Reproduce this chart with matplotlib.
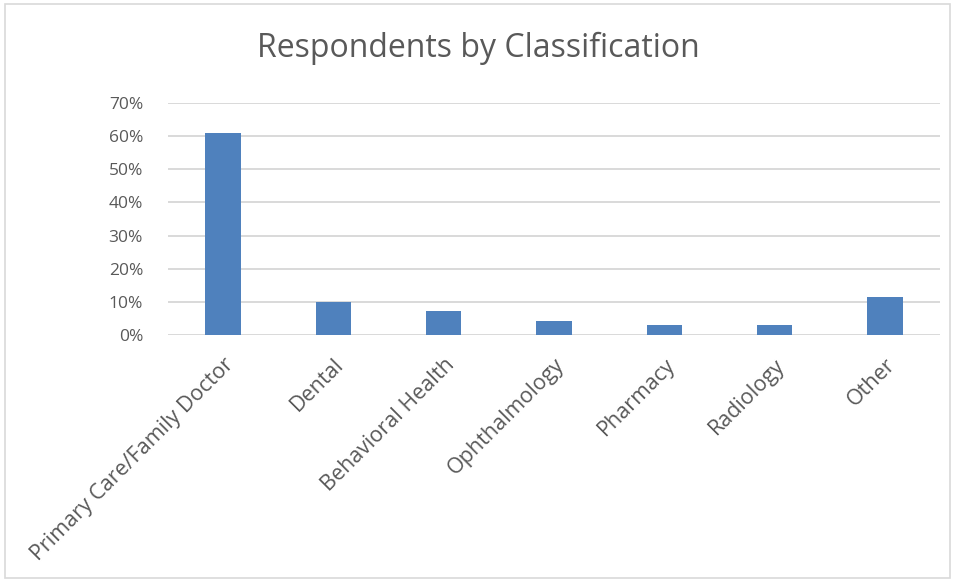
import matplotlib.pyplot as plt
from matplotlib.ticker import PercentFormatter
from matplotlib.patches import Rectangle

categories = ['Primary Care/Family Doctor', 'Dental', 'Behavioral Health',
              'Ophthalmology', 'Pharmacy', 'Radiology', 'Other']
shares = [0.608, 0.101, 0.072, 0.043, 0.029, 0.029, 0.116]
yticks = [0, 0.1, 0.2, 0.3, 0.4, 0.5, 0.6, 0.7]

plt.rcParams['font.family'] = ['Open Sans', 'DejaVu Sans']
grey = '#595959'

fig = plt.figure(figsize=(9.56, 5.81), dpi=100)
W, H = 956, 581
ax = fig.add_axes([168 / W, 1 - 335 / H, (940 - 168) / W, (335 - 103) / H])

x = range(len(categories))
ax.bar(x, shares, width=0.32, color='#4f81bd', zorder=3)

ax.set_xlim(-0.5, len(categories) - 0.5)
ax.set_ylim(0, 0.7)
ax.set_yticks(yticks)
ax.yaxis.set_major_formatter(PercentFormatter(1.0, decimals=0))
ax.grid(axis='y', color='#d9d9d9', linewidth=1.4, zorder=0)
for s in ax.spines.values():
    s.set_visible(False)
ax.tick_params(axis='both', length=0, labelsize=12.5, colors=grey)
ax.tick_params(axis='y', pad=18)

ax.set_xticks(list(x))
ax.set_xticklabels(categories, rotation=45, ha='right', va='top',
                   rotation_mode='anchor', fontsize=15.5)
ax.tick_params(axis='x', pad=14)

fig.text(0.5, 1 - 48 / H, 'Respondents by Classification', ha='center',
         va='center', fontsize=23, color=grey)

# chart border
fig.patches.append(Rectangle((5 / W, 3 / H), 945 / W, 574 / H,
                             transform=fig.transFigure, fill=False,
                             edgecolor='#d9d9d9', linewidth=1.2))

fig.savefig('out.png', dpi=100)
